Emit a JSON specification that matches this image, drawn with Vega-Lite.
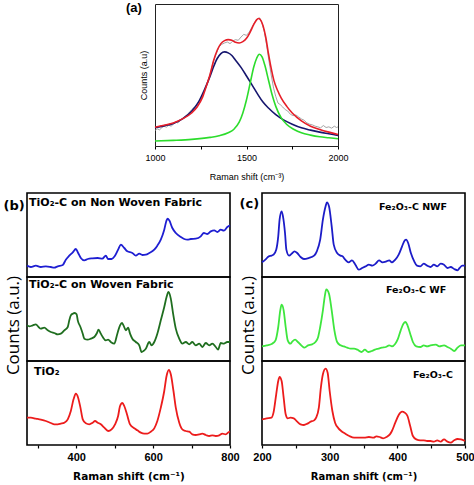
{
"$schema": "https://vega.github.io/schema/vega-lite/v6.json",
"padding": {"left": 2, "top": 1, "right": 0, "bottom": 0},
"background": "white",
"config": {
 "font": "Liberation Sans",
 "axis": {"grid": false, "domain": false, "tickColor": "black", "labelColor": "black", "titleColor": "black", "labelFlush": false, "labelOverlap": false},
 "title": {"color": "black"}
},
"datasets": {
"A": [
{"s":"raw","x":1000,"y":47},{"s":"raw","x":1012,"y":52},{"s":"raw","x":1025,"y":49},{"s":"raw","x":1038,"y":56},{"s":"raw","x":1050,"y":60},{"s":"raw","x":1062,"y":57},{"s":"raw","x":1075,"y":63},{"s":"raw","x":1088,"y":60},{"s":"raw","x":1100,"y":66},{"s":"raw","x":1112,"y":72},{"s":"raw","x":1125,"y":70},{"s":"raw","x":1140,"y":78},{"s":"raw","x":1155,"y":85},{"s":"raw","x":1170,"y":92},{"s":"raw","x":1185,"y":100},{"s":"raw","x":1200,"y":110},{"s":"raw","x":1215,"y":118},{"s":"raw","x":1230,"y":125},{"s":"raw","x":1245,"y":140},{"s":"raw","x":1260,"y":155},{"s":"raw","x":1275,"y":172},{"s":"raw","x":1290,"y":195},{"s":"raw","x":1305,"y":225},{"s":"raw","x":1320,"y":258},{"s":"raw","x":1335,"y":280},{"s":"raw","x":1350,"y":300},{"s":"raw","x":1365,"y":308},{"s":"raw","x":1380,"y":312},{"s":"raw","x":1395,"y":315},{"s":"raw","x":1410,"y":310},{"s":"raw","x":1425,"y":318},{"s":"raw","x":1440,"y":322},{"s":"raw","x":1455,"y":320},{"s":"raw","x":1470,"y":330},{"s":"raw","x":1485,"y":338},{"s":"raw","x":1500,"y":335},{"s":"raw","x":1515,"y":345},{"s":"raw","x":1530,"y":360},{"s":"raw","x":1545,"y":375},{"s":"raw","x":1560,"y":385},{"s":"raw","x":1572,"y":388},{"s":"raw","x":1585,"y":372},{"s":"raw","x":1598,"y":345},{"s":"raw","x":1610,"y":305},{"s":"raw","x":1622,"y":260},{"s":"raw","x":1635,"y":215},{"s":"raw","x":1648,"y":175},{"s":"raw","x":1660,"y":150},{"s":"raw","x":1672,"y":130},{"s":"raw","x":1685,"y":125},{"s":"raw","x":1698,"y":118},{"s":"raw","x":1712,"y":110},{"s":"raw","x":1725,"y":106},{"s":"raw","x":1740,"y":96},{"s":"raw","x":1755,"y":92},{"s":"raw","x":1770,"y":94},{"s":"raw","x":1785,"y":88},{"s":"raw","x":1800,"y":82},{"s":"raw","x":1815,"y":78},{"s":"raw","x":1830,"y":70},{"s":"raw","x":1845,"y":66},{"s":"raw","x":1860,"y":64},{"s":"raw","x":1875,"y":60},{"s":"raw","x":1890,"y":58},{"s":"raw","x":1905,"y":55},{"s":"raw","x":1920,"y":62},{"s":"raw","x":1935,"y":56},{"s":"raw","x":1950,"y":58},{"s":"raw","x":1965,"y":54},{"s":"raw","x":1980,"y":60},{"s":"raw","x":1992,"y":56},{"s":"raw","x":2000,"y":58},
{"s":"D","x":1000,"y":55},{"s":"D","x":1050,"y":61},{"s":"D","x":1100,"y":68},{"s":"D","x":1150,"y":82},{"s":"D","x":1200,"y":105},{"s":"D","x":1240,"y":135},{"s":"D","x":1270,"y":170},{"s":"D","x":1300,"y":210},{"s":"D","x":1320,"y":240},{"s":"D","x":1340,"y":265},{"s":"D","x":1360,"y":280},{"s":"D","x":1380,"y":285},{"s":"D","x":1400,"y":282},{"s":"D","x":1420,"y":274},{"s":"D","x":1440,"y":260},{"s":"D","x":1470,"y":238},{"s":"D","x":1500,"y":212},{"s":"D","x":1530,"y":185},{"s":"D","x":1560,"y":158},{"s":"D","x":1590,"y":133},{"s":"D","x":1620,"y":115},{"s":"D","x":1660,"y":95},{"s":"D","x":1700,"y":80},{"s":"D","x":1750,"y":66},{"s":"D","x":1800,"y":55},{"s":"D","x":1850,"y":48},{"s":"D","x":1900,"y":42},{"s":"D","x":1950,"y":37},{"s":"D","x":2000,"y":32},
{"s":"G","x":1000,"y":15},{"s":"G","x":1100,"y":17},{"s":"G","x":1200,"y":20},{"s":"G","x":1300,"y":26},{"s":"G","x":1350,"y":31},{"s":"G","x":1400,"y":40},{"s":"G","x":1430,"y":50},{"s":"G","x":1460,"y":72},{"s":"G","x":1480,"y":100},{"s":"G","x":1500,"y":140},{"s":"G","x":1520,"y":190},{"s":"G","x":1540,"y":240},{"s":"G","x":1555,"y":265},{"s":"G","x":1570,"y":278},{"s":"G","x":1585,"y":270},{"s":"G","x":1600,"y":245},{"s":"G","x":1620,"y":200},{"s":"G","x":1640,"y":155},{"s":"G","x":1660,"y":120},{"s":"G","x":1690,"y":85},{"s":"G","x":1720,"y":65},{"s":"G","x":1760,"y":50},{"s":"G","x":1800,"y":40},{"s":"G","x":1850,"y":33},{"s":"G","x":1900,"y":28},{"s":"G","x":1950,"y":25},{"s":"G","x":2000,"y":22},
{"s":"fit","x":1000,"y":57},{"s":"fit","x":1050,"y":63},{"s":"fit","x":1100,"y":70},{"s":"fit","x":1150,"y":82},{"s":"fit","x":1200,"y":100},{"s":"fit","x":1230,"y":118},{"s":"fit","x":1260,"y":148},{"s":"fit","x":1280,"y":180},{"s":"fit","x":1300,"y":215},{"s":"fit","x":1320,"y":258},{"s":"fit","x":1340,"y":290},{"s":"fit","x":1360,"y":310},{"s":"fit","x":1380,"y":319},{"s":"fit","x":1400,"y":322},{"s":"fit","x":1420,"y":320},{"s":"fit","x":1440,"y":314},{"s":"fit","x":1460,"y":312},{"s":"fit","x":1480,"y":316},{"s":"fit","x":1500,"y":326},{"s":"fit","x":1520,"y":345},{"s":"fit","x":1540,"y":368},{"s":"fit","x":1555,"y":382},{"s":"fit","x":1565,"y":386},{"s":"fit","x":1575,"y":383},{"s":"fit","x":1590,"y":365},{"s":"fit","x":1605,"y":330},{"s":"fit","x":1620,"y":280},{"s":"fit","x":1635,"y":235},{"s":"fit","x":1650,"y":198},{"s":"fit","x":1670,"y":168},{"s":"fit","x":1690,"y":145},{"s":"fit","x":1720,"y":120},{"s":"fit","x":1750,"y":100},{"s":"fit","x":1800,"y":76},{"s":"fit","x":1850,"y":60},{"s":"fit","x":1900,"y":50},{"s":"fit","x":1950,"y":42},{"s":"fit","x":2000,"y":35}
],
"B": [
{"p":"nwf","x":272,"y":34},{"p":"nwf","x":282,"y":30},{"p":"nwf","x":295,"y":34},{"p":"nwf","x":308,"y":30},{"p":"nwf","x":321,"y":32},{"p":"nwf","x":334,"y":30},{"p":"nwf","x":343,"y":28},{"p":"nwf","x":352,"y":32},{"p":"nwf","x":365,"y":36},{"p":"nwf","x":373,"y":52},{"p":"nwf","x":382,"y":64},{"p":"nwf","x":391,"y":74},{"p":"nwf","x":399,"y":84},{"p":"nwf","x":405,"y":72},{"p":"nwf","x":412,"y":57},{"p":"nwf","x":421,"y":50},{"p":"nwf","x":430,"y":54},{"p":"nwf","x":442,"y":56},{"p":"nwf","x":456,"y":57},{"p":"nwf","x":468,"y":55},{"p":"nwf","x":477,"y":64},{"p":"nwf","x":483,"y":54},{"p":"nwf","x":492,"y":54},{"p":"nwf","x":500,"y":62},{"p":"nwf","x":509,"y":82},{"p":"nwf","x":516,"y":97},{"p":"nwf","x":525,"y":87},{"p":"nwf","x":533,"y":77},{"p":"nwf","x":546,"y":72},{"p":"nwf","x":555,"y":64},{"p":"nwf","x":564,"y":70},{"p":"nwf","x":572,"y":66},{"p":"nwf","x":581,"y":67},{"p":"nwf","x":590,"y":72},{"p":"nwf","x":603,"y":82},{"p":"nwf","x":611,"y":94},{"p":"nwf","x":620,"y":112},{"p":"nwf","x":629,"y":142},{"p":"nwf","x":635,"y":170},{"p":"nwf","x":638,"y":175},{"p":"nwf","x":642,"y":170},{"p":"nwf","x":650,"y":147},{"p":"nwf","x":659,"y":132},{"p":"nwf","x":672,"y":120},{"p":"nwf","x":681,"y":114},{"p":"nwf","x":689,"y":112},{"p":"nwf","x":698,"y":114},{"p":"nwf","x":711,"y":115},{"p":"nwf","x":724,"y":122},{"p":"nwf","x":732,"y":132},{"p":"nwf","x":741,"y":129},{"p":"nwf","x":750,"y":137},{"p":"nwf","x":759,"y":140},{"p":"nwf","x":767,"y":135},{"p":"nwf","x":776,"y":142},{"p":"nwf","x":784,"y":139},{"p":"nwf","x":793,"y":150},{"p":"nwf","x":800,"y":155},
{"p":"wf","x":272,"y":107},{"p":"wf","x":278,"y":104},{"p":"wf","x":287,"y":107},{"p":"wf","x":295,"y":110},{"p":"wf","x":302,"y":102},{"p":"wf","x":308,"y":97},{"p":"wf","x":317,"y":100},{"p":"wf","x":326,"y":92},{"p":"wf","x":334,"y":87},{"p":"wf","x":343,"y":84},{"p":"wf","x":352,"y":80},{"p":"wf","x":360,"y":82},{"p":"wf","x":369,"y":92},{"p":"wf","x":378,"y":102},{"p":"wf","x":382,"y":122},{"p":"wf","x":386,"y":137},{"p":"wf","x":391,"y":142},{"p":"wf","x":396,"y":144},{"p":"wf","x":401,"y":140},{"p":"wf","x":404,"y":122},{"p":"wf","x":411,"y":102},{"p":"wf","x":417,"y":82},{"p":"wf","x":421,"y":67},{"p":"wf","x":430,"y":64},{"p":"wf","x":438,"y":67},{"p":"wf","x":447,"y":72},{"p":"wf","x":454,"y":84},{"p":"wf","x":458,"y":94},{"p":"wf","x":464,"y":82},{"p":"wf","x":469,"y":72},{"p":"wf","x":477,"y":62},{"p":"wf","x":483,"y":64},{"p":"wf","x":490,"y":57},{"p":"wf","x":499,"y":52},{"p":"wf","x":507,"y":82},{"p":"wf","x":514,"y":107},{"p":"wf","x":519,"y":114},{"p":"wf","x":523,"y":107},{"p":"wf","x":529,"y":92},{"p":"wf","x":535,"y":100},{"p":"wf","x":540,"y":82},{"p":"wf","x":546,"y":67},{"p":"wf","x":555,"y":57},{"p":"wf","x":564,"y":47},{"p":"wf","x":570,"y":27},{"p":"wf","x":575,"y":30},{"p":"wf","x":581,"y":37},{"p":"wf","x":590,"y":57},{"p":"wf","x":596,"y":47},{"p":"wf","x":603,"y":57},{"p":"wf","x":611,"y":82},{"p":"wf","x":620,"y":122},{"p":"wf","x":629,"y":162},{"p":"wf","x":635,"y":192},{"p":"wf","x":640,"y":207},{"p":"wf","x":646,"y":187},{"p":"wf","x":652,"y":142},{"p":"wf","x":659,"y":97},{"p":"wf","x":668,"y":67},{"p":"wf","x":676,"y":52},{"p":"wf","x":685,"y":57},{"p":"wf","x":694,"y":50},{"p":"wf","x":702,"y":57},{"p":"wf","x":711,"y":47},{"p":"wf","x":720,"y":52},{"p":"wf","x":728,"y":42},{"p":"wf","x":737,"y":54},{"p":"wf","x":746,"y":47},{"p":"wf","x":754,"y":52},{"p":"wf","x":763,"y":42},{"p":"wf","x":769,"y":34},{"p":"wf","x":776,"y":54},{"p":"wf","x":784,"y":52},{"p":"wf","x":793,"y":57},{"p":"wf","x":800,"y":57},
{"p":"tio2","x":272,"y":82},{"p":"tio2","x":282,"y":82},{"p":"tio2","x":295,"y":79},{"p":"tio2","x":308,"y":76},{"p":"tio2","x":321,"y":72},{"p":"tio2","x":334,"y":66},{"p":"tio2","x":343,"y":62},{"p":"tio2","x":352,"y":62},{"p":"tio2","x":360,"y":64},{"p":"tio2","x":369,"y":67},{"p":"tio2","x":378,"y":77},{"p":"tio2","x":386,"y":102},{"p":"tio2","x":393,"y":137},{"p":"tio2","x":399,"y":154},{"p":"tio2","x":405,"y":142},{"p":"tio2","x":411,"y":112},{"p":"tio2","x":417,"y":77},{"p":"tio2","x":425,"y":65},{"p":"tio2","x":434,"y":62},{"p":"tio2","x":443,"y":67},{"p":"tio2","x":449,"y":72},{"p":"tio2","x":456,"y":67},{"p":"tio2","x":464,"y":62},{"p":"tio2","x":473,"y":52},{"p":"tio2","x":483,"y":42},{"p":"tio2","x":492,"y":47},{"p":"tio2","x":501,"y":62},{"p":"tio2","x":509,"y":87},{"p":"tio2","x":514,"y":117},{"p":"tio2","x":520,"y":126},{"p":"tio2","x":525,"y":117},{"p":"tio2","x":532,"y":92},{"p":"tio2","x":540,"y":62},{"p":"tio2","x":551,"y":50},{"p":"tio2","x":559,"y":44},{"p":"tio2","x":568,"y":37},{"p":"tio2","x":577,"y":34},{"p":"tio2","x":585,"y":34},{"p":"tio2","x":594,"y":40},{"p":"tio2","x":603,"y":50},{"p":"tio2","x":611,"y":72},{"p":"tio2","x":620,"y":112},{"p":"tio2","x":629,"y":162},{"p":"tio2","x":635,"y":207},{"p":"tio2","x":641,"y":225},{"p":"tio2","x":646,"y":212},{"p":"tio2","x":653,"y":162},{"p":"tio2","x":659,"y":112},{"p":"tio2","x":668,"y":67},{"p":"tio2","x":676,"y":47},{"p":"tio2","x":685,"y":42},{"p":"tio2","x":694,"y":40},{"p":"tio2","x":702,"y":32},{"p":"tio2","x":711,"y":30},{"p":"tio2","x":720,"y":32},{"p":"tio2","x":728,"y":34},{"p":"tio2","x":737,"y":30},{"p":"tio2","x":746,"y":27},{"p":"tio2","x":754,"y":29},{"p":"tio2","x":763,"y":27},{"p":"tio2","x":772,"y":29},{"p":"tio2","x":780,"y":34},{"p":"tio2","x":789,"y":32},{"p":"tio2","x":797,"y":39},{"p":"tio2","x":800,"y":40}
],
"C": [
{"p":"nwf","x":200,"y":44},{"p":"nwf","x":205,"y":52},{"p":"nwf","x":210,"y":62},{"p":"nwf","x":214,"y":64},{"p":"nwf","x":217,"y":67},{"p":"nwf","x":221,"y":82},{"p":"nwf","x":224,"y":122},{"p":"nwf","x":226,"y":172},{"p":"nwf","x":229,"y":197},{"p":"nwf","x":231,"y":182},{"p":"nwf","x":234,"y":132},{"p":"nwf","x":236,"y":82},{"p":"nwf","x":240,"y":64},{"p":"nwf","x":244,"y":70},{"p":"nwf","x":248,"y":77},{"p":"nwf","x":252,"y":72},{"p":"nwf","x":257,"y":60},{"p":"nwf","x":262,"y":54},{"p":"nwf","x":269,"y":57},{"p":"nwf","x":277,"y":64},{"p":"nwf","x":281,"y":77},{"p":"nwf","x":286,"y":112},{"p":"nwf","x":290,"y":172},{"p":"nwf","x":294,"y":212},{"p":"nwf","x":296,"y":224},{"p":"nwf","x":299,"y":212},{"p":"nwf","x":303,"y":152},{"p":"nwf","x":306,"y":97},{"p":"nwf","x":311,"y":72},{"p":"nwf","x":316,"y":64},{"p":"nwf","x":319,"y":62},{"p":"nwf","x":323,"y":52},{"p":"nwf","x":328,"y":44},{"p":"nwf","x":333,"y":50},{"p":"nwf","x":338,"y":37},{"p":"nwf","x":343,"y":22},{"p":"nwf","x":348,"y":27},{"p":"nwf","x":353,"y":32},{"p":"nwf","x":358,"y":37},{"p":"nwf","x":363,"y":34},{"p":"nwf","x":368,"y":40},{"p":"nwf","x":373,"y":50},{"p":"nwf","x":378,"y":44},{"p":"nwf","x":383,"y":46},{"p":"nwf","x":388,"y":50},{"p":"nwf","x":392,"y":44},{"p":"nwf","x":397,"y":52},{"p":"nwf","x":402,"y":67},{"p":"nwf","x":407,"y":92},{"p":"nwf","x":411,"y":110},{"p":"nwf","x":413,"y":112},{"p":"nwf","x":416,"y":102},{"p":"nwf","x":420,"y":72},{"p":"nwf","x":425,"y":47},{"p":"nwf","x":429,"y":34},{"p":"nwf","x":434,"y":32},{"p":"nwf","x":439,"y":40},{"p":"nwf","x":444,"y":34},{"p":"nwf","x":449,"y":30},{"p":"nwf","x":454,"y":37},{"p":"nwf","x":459,"y":32},{"p":"nwf","x":464,"y":40},{"p":"nwf","x":469,"y":37},{"p":"nwf","x":474,"y":27},{"p":"nwf","x":479,"y":30},{"p":"nwf","x":484,"y":24},{"p":"nwf","x":489,"y":20},{"p":"nwf","x":492,"y":27},{"p":"nwf","x":496,"y":34},{"p":"nwf","x":500,"y":34},
{"p":"wf","x":200,"y":44},{"p":"wf","x":207,"y":47},{"p":"wf","x":215,"y":52},{"p":"wf","x":220,"y":62},{"p":"wf","x":224,"y":102},{"p":"wf","x":227,"y":152},{"p":"wf","x":229,"y":169},{"p":"wf","x":232,"y":152},{"p":"wf","x":235,"y":102},{"p":"wf","x":238,"y":62},{"p":"wf","x":242,"y":52},{"p":"wf","x":245,"y":59},{"p":"wf","x":249,"y":64},{"p":"wf","x":253,"y":57},{"p":"wf","x":258,"y":47},{"p":"wf","x":263,"y":40},{"p":"wf","x":268,"y":47},{"p":"wf","x":274,"y":50},{"p":"wf","x":279,"y":57},{"p":"wf","x":283,"y":72},{"p":"wf","x":286,"y":102},{"p":"wf","x":290,"y":152},{"p":"wf","x":293,"y":197},{"p":"wf","x":295,"y":215},{"p":"wf","x":299,"y":202},{"p":"wf","x":303,"y":152},{"p":"wf","x":307,"y":92},{"p":"wf","x":311,"y":57},{"p":"wf","x":316,"y":47},{"p":"wf","x":321,"y":44},{"p":"wf","x":326,"y":40},{"p":"wf","x":331,"y":37},{"p":"wf","x":336,"y":37},{"p":"wf","x":341,"y":34},{"p":"wf","x":347,"y":27},{"p":"wf","x":352,"y":34},{"p":"wf","x":357,"y":27},{"p":"wf","x":362,"y":30},{"p":"wf","x":367,"y":34},{"p":"wf","x":372,"y":37},{"p":"wf","x":377,"y":40},{"p":"wf","x":383,"y":42},{"p":"wf","x":388,"y":47},{"p":"wf","x":392,"y":44},{"p":"wf","x":397,"y":52},{"p":"wf","x":401,"y":67},{"p":"wf","x":405,"y":92},{"p":"wf","x":409,"y":112},{"p":"wf","x":412,"y":117},{"p":"wf","x":415,"y":107},{"p":"wf","x":419,"y":82},{"p":"wf","x":423,"y":57},{"p":"wf","x":428,"y":44},{"p":"wf","x":434,"y":42},{"p":"wf","x":439,"y":47},{"p":"wf","x":444,"y":44},{"p":"wf","x":449,"y":47},{"p":"wf","x":457,"y":49},{"p":"wf","x":462,"y":44},{"p":"wf","x":469,"y":47},{"p":"wf","x":474,"y":42},{"p":"wf","x":479,"y":37},{"p":"wf","x":484,"y":30},{"p":"wf","x":489,"y":40},{"p":"wf","x":494,"y":47},{"p":"wf","x":500,"y":47},
{"p":"fe","x":200,"y":77},{"p":"fe","x":207,"y":80},{"p":"fe","x":214,"y":82},{"p":"fe","x":217,"y":97},{"p":"fe","x":221,"y":152},{"p":"fe","x":224,"y":192},{"p":"fe","x":226,"y":204},{"p":"fe","x":229,"y":192},{"p":"fe","x":232,"y":142},{"p":"fe","x":235,"y":92},{"p":"fe","x":238,"y":80},{"p":"fe","x":242,"y":82},{"p":"fe","x":247,"y":80},{"p":"fe","x":252,"y":70},{"p":"fe","x":257,"y":62},{"p":"fe","x":262,"y":60},{"p":"fe","x":267,"y":64},{"p":"fe","x":272,"y":70},{"p":"fe","x":277,"y":74},{"p":"fe","x":280,"y":82},{"p":"fe","x":284,"y":112},{"p":"fe","x":287,"y":172},{"p":"fe","x":290,"y":212},{"p":"fe","x":294,"y":229},{"p":"fe","x":297,"y":217},{"p":"fe","x":300,"y":162},{"p":"fe","x":304,"y":102},{"p":"fe","x":308,"y":67},{"p":"fe","x":313,"y":50},{"p":"fe","x":317,"y":42},{"p":"fe","x":323,"y":34},{"p":"fe","x":329,"y":27},{"p":"fe","x":336,"y":22},{"p":"fe","x":343,"y":22},{"p":"fe","x":351,"y":22},{"p":"fe","x":358,"y":24},{"p":"fe","x":365,"y":22},{"p":"fe","x":369,"y":26},{"p":"fe","x":374,"y":24},{"p":"fe","x":379,"y":20},{"p":"fe","x":384,"y":24},{"p":"fe","x":389,"y":32},{"p":"fe","x":392,"y":42},{"p":"fe","x":397,"y":67},{"p":"fe","x":402,"y":90},{"p":"fe","x":407,"y":100},{"p":"fe","x":411,"y":97},{"p":"fe","x":415,"y":87},{"p":"fe","x":419,"y":57},{"p":"fe","x":423,"y":27},{"p":"fe","x":428,"y":17},{"p":"fe","x":434,"y":14},{"p":"fe","x":439,"y":14},{"p":"fe","x":444,"y":12},{"p":"fe","x":449,"y":12},{"p":"fe","x":454,"y":10},{"p":"fe","x":459,"y":14},{"p":"fe","x":464,"y":10},{"p":"fe","x":469,"y":17},{"p":"fe","x":474,"y":10},{"p":"fe","x":479,"y":7},{"p":"fe","x":484,"y":14},{"p":"fe","x":489,"y":18},{"p":"fe","x":494,"y":17},{"p":"fe","x":500,"y":12}
]
},
"vconcat": [
 {
  "hconcat": [
   {"width": 128, "height": 142, "data": {"values": []}, "mark": {"type": "point", "opacity": 0}, "view": {"stroke": null}},
   {
    "width": 183, "height": 142,
    "view": {"stroke": "#222222", "strokeWidth": 1},
    "data": {"name": "A"},
    "title": {"text": "(a)", "anchor": "start", "frame": "group", "dx": -29, "offset": -11, "font": "Liberation Sans", "fontSize": 13, "fontWeight": "bold", "color": "black"},
    "encoding": {
     "x": {"field": "x", "type": "quantitative", "scale": {"domain": [1000, 2000], "nice": false, "zero": false},
       "axis": {"title": "Raman shift (cm⁻³)", "values": [1000, 1250, 1500, 1750, 2000], "format": "d", "labelExpr": "datum.value % 500 === 0 ? datum.label : ''", "tickSize": 3, "labelFont": "Liberation Sans", "labelFontSize": 9, "labelPadding": 4, "titleFont": "Liberation Sans", "titleFontSize": 9, "titleFontWeight": "normal", "titlePadding": 10}},
     "y": {"field": "y", "type": "quantitative", "scale": {"domain": [0, 430], "nice": false, "zero": false},
       "axis": {"title": "Counts (a.u)", "labels": false, "ticks": false, "titleFont": "Liberation Sans", "titleFontSize": 9, "titleFontWeight": "normal", "titlePadding": 7}}
    },
    "layer": [
     {"transform": [{"filter": "datum.s === 'raw'"}], "mark": {"type": "line", "color": "#9a9a9a", "strokeWidth": 0.9}},
     {"transform": [{"filter": "datum.s === 'D'"}], "mark": {"type": "line", "color": "#16166e", "strokeWidth": 1.6, "interpolate": "monotone"}},
     {"transform": [{"filter": "datum.s === 'G'"}], "mark": {"type": "line", "color": "#2cdc2c", "strokeWidth": 1.6, "interpolate": "monotone"}},
     {"transform": [{"filter": "datum.s === 'fit'"}], "mark": {"type": "line", "color": "#e61e28", "strokeWidth": 1.6, "interpolate": "monotone"}}
    ]
   }
  ],
  "spacing": 0,
  "bounds": "flush"
 },
 {
  "concat": [
   {
    "width": 203, "height": 84, "view": {"stroke": "black", "strokeWidth": 1.6},
    "data": {"name": "B"}, "transform": [{"filter": "datum.p === 'nwf'"}],
    "title": {"text": "TiO₂-C on Non Woven Fabric", "anchor": "start", "frame": "group", "dx": 2, "offset": -15, "font": "DejaVu Sans", "fontSize": 11, "fontWeight": "bold", "color": "black"},
    "mark": {"type": "line", "color": "#1e1ed2", "strokeWidth": 1.8, "interpolate": "monotone"},
    "encoding": {
     "x": {"field": "x", "type": "quantitative", "scale": {"domain": [272, 800], "nice": false, "zero": false}, "axis": null},
     "y": {"field": "y", "type": "quantitative", "scale": {"domain": [0, 252], "nice": false, "zero": false},
       "axis": {"title": "(b)", "labels": false, "ticks": false, "titleAngle": 0, "titleX": -24, "titleY": 12, "titleAlign": "left", "titleBaseline": "middle", "titleFont": "DejaVu Sans", "titleFontSize": 13, "titleFontWeight": "bold"}}
    }
   },
   {
    "width": 203, "height": 84, "view": {"stroke": "black", "strokeWidth": 1.6},
    "data": {"name": "C"}, "transform": [{"filter": "datum.p === 'nwf'"}],
    "title": {"text": "Fe₂O₃-C NWF", "anchor": "start", "frame": "group", "dx": 117, "offset": -18, "font": "DejaVu Sans", "fontSize": 9.5, "fontWeight": "bold", "color": "black"},
    "mark": {"type": "line", "color": "#1c1cc8", "strokeWidth": 1.8, "interpolate": "monotone"},
    "encoding": {
     "x": {"field": "x", "type": "quantitative", "scale": {"domain": [200, 500], "nice": false, "zero": false}, "axis": null},
     "y": {"field": "y", "type": "quantitative", "scale": {"domain": [0, 252], "nice": false, "zero": false},
       "axis": {"title": "(c)", "labels": false, "ticks": false, "titleAngle": 0, "titleX": -23, "titleY": 10, "titleAlign": "left", "titleBaseline": "middle", "titleFont": "DejaVu Sans", "titleFontSize": 13, "titleFontWeight": "bold"}}
    }
   },
   {
    "width": 203, "height": 84, "view": {"stroke": "black", "strokeWidth": 1.6},
    "data": {"name": "B"}, "transform": [{"filter": "datum.p === 'wf'"}],
    "title": {"text": "TiO₂-C on Woven Fabric", "anchor": "start", "frame": "group", "dx": 2, "offset": -15, "font": "DejaVu Sans", "fontSize": 11, "fontWeight": "bold", "color": "black"},
    "mark": {"type": "line", "color": "#1f6e1f", "strokeWidth": 1.8, "interpolate": "monotone"},
    "encoding": {
     "x": {"field": "x", "type": "quantitative", "scale": {"domain": [272, 800], "nice": false, "zero": false}, "axis": null},
     "y": {"field": "y", "type": "quantitative", "scale": {"domain": [0, 252], "nice": false, "zero": false},
       "axis": {"title": "Counts (a.u.)", "labels": false, "ticks": false, "titleY": 48, "titlePadding": 5, "titleFont": "Open Sans", "titleFontSize": 17, "titleFontWeight": "normal"}}
    }
   },
   {
    "width": 203, "height": 84, "view": {"stroke": "black", "strokeWidth": 1.6},
    "data": {"name": "C"}, "transform": [{"filter": "datum.p === 'wf'"}],
    "title": {"text": "Fe₂O₃-C WF", "anchor": "start", "frame": "group", "dx": 124, "offset": -19, "font": "DejaVu Sans", "fontSize": 9.5, "fontWeight": "bold", "color": "black"},
    "mark": {"type": "line", "color": "#3ee63e", "strokeWidth": 1.8, "interpolate": "monotone"},
    "encoding": {
     "x": {"field": "x", "type": "quantitative", "scale": {"domain": [200, 500], "nice": false, "zero": false}, "axis": null},
     "y": {"field": "y", "type": "quantitative", "scale": {"domain": [0, 252], "nice": false, "zero": false},
       "axis": {"title": "Counts (a.u.)", "labels": false, "ticks": false, "titleY": 48, "titlePadding": 5, "titleFont": "Open Sans", "titleFontSize": 17, "titleFontWeight": "normal"}}
    }
   },
   {
    "width": 203, "height": 84, "view": {"stroke": "black", "strokeWidth": 1.6},
    "data": {"name": "B"}, "transform": [{"filter": "datum.p === 'tio2'"}],
    "title": {"text": "TiO₂", "anchor": "start", "frame": "group", "dx": 7, "offset": -16, "font": "DejaVu Sans", "fontSize": 11, "fontWeight": "bold", "color": "black"},
    "mark": {"type": "line", "color": "#ec1c1c", "strokeWidth": 1.8, "interpolate": "monotone"},
    "encoding": {
     "x": {"field": "x", "type": "quantitative", "scale": {"domain": [272, 800], "nice": false, "zero": false},
       "axis": {"title": "Raman shift (cm⁻¹)", "values": [300, 400, 500, 600, 700, 800], "labelExpr": "datum.value % 200 === 0 ? datum.label : ''", "tickSize": 3, "tickWidth": 1.2, "labelFont": "Liberation Sans", "labelFontSize": 11, "labelFontWeight": "bold", "labelPadding": 3, "titleFont": "DejaVu Sans", "titleFontSize": 10.5, "titleFontWeight": "bold", "titlePadding": 9}},
     "y": {"field": "y", "type": "quantitative", "scale": {"domain": [0, 252], "nice": false, "zero": false}, "axis": null}
    }
   },
   {
    "width": 203, "height": 84, "view": {"stroke": "black", "strokeWidth": 1.6},
    "data": {"name": "C"}, "transform": [{"filter": "datum.p === 'fe'"}],
    "title": {"text": "Fe₂O₃-C", "anchor": "start", "frame": "group", "dx": 151, "offset": -18, "font": "DejaVu Sans", "fontSize": 9.5, "fontWeight": "bold", "color": "black"},
    "mark": {"type": "line", "color": "#ec1c1c", "strokeWidth": 1.8, "interpolate": "monotone"},
    "encoding": {
     "x": {"field": "x", "type": "quantitative", "scale": {"domain": [200, 500], "nice": false, "zero": false},
       "axis": {"title": "Raman shift (cm⁻¹)", "values": [200, 250, 300, 350, 400, 450, 500], "labelExpr": "datum.value % 100 === 0 ? datum.label : ''", "tickSize": 3, "tickWidth": 1.2, "labelFont": "Liberation Sans", "labelFontSize": 11, "labelFontWeight": "bold", "labelPadding": 3, "titleFont": "DejaVu Sans", "titleFontSize": 10, "titleFontWeight": "bold", "titlePadding": 9}},
     "y": {"field": "y", "type": "quantitative", "scale": {"domain": [0, 252], "nice": false, "zero": false}, "axis": null}
    }
   }
  ],
  "columns": 2,
  "spacing": {"row": 0, "column": 32},
  "bounds": "flush"
 }
],
"spacing": 10
}
